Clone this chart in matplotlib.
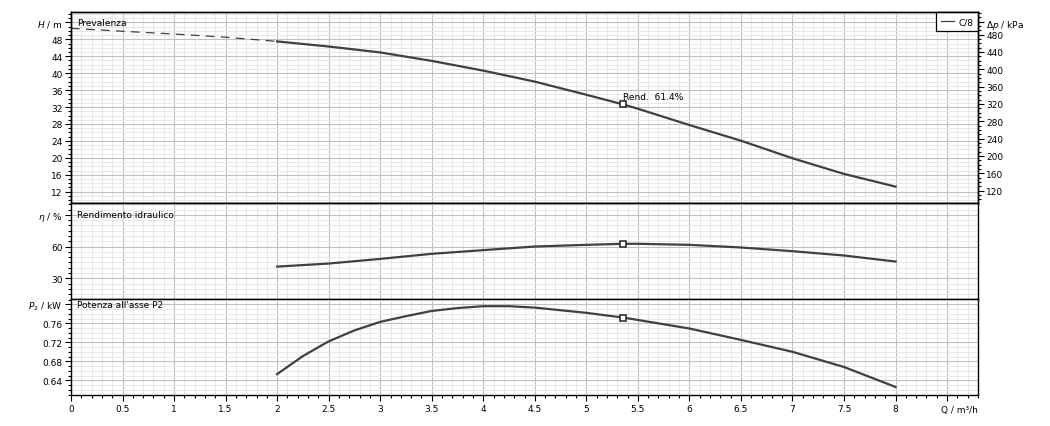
import matplotlib
matplotlib.use("Agg")
import matplotlib.pyplot as plt
from matplotlib.ticker import MultipleLocator, FixedLocator, FuncFormatter

# ---------------- data ----------------
q_dash = [0.0, 0.5, 1.0, 1.5, 2.0]
h_dash = [50.6, 49.9, 49.25, 48.5, 47.5]

q = [2.0, 2.5, 3.0, 3.5, 4.0, 4.5, 5.0, 5.36, 5.5, 6.0, 6.5, 7.0, 7.5, 8.0]
head = [47.5, 46.3, 44.9, 42.9, 40.6, 38.0, 34.9, 32.6, 31.6, 27.75, 24.05, 19.9, 16.2, 13.2]
eta = [41.0, 43.9, 48.3, 53.1, 56.6, 60.0, 61.6, 62.6, 62.6, 61.6, 59.1, 55.6, 51.5, 45.8]

q_p = [2.0, 2.25, 2.5, 2.75, 3.0, 3.25, 3.5, 3.75, 4.0, 4.25, 4.5, 5.0, 5.36, 5.5, 6.0, 6.5, 7.0, 7.5, 8.0]
power = [0.653, 0.691, 0.722, 0.745, 0.763, 0.775, 0.786, 0.792, 0.796, 0.796, 0.793, 0.782, 0.772,
         0.767, 0.749, 0.725, 0.700, 0.668, 0.626]

duty_q = 5.36
duty_h = 32.6
duty_eta = 62.6
duty_p = 0.772
duty_label = "Rend.  61.4%"
legend_label = "C/8"
kpa_per_m = 9.77

h_ticks = [12, 16, 20, 24, 28, 32, 36, 40, 44, 48, 52]
kpa_ticks = [120, 160, 200, 240, 280, 320, 360, 400, 440, 480]
eta_ticks = [30, 60, 90]
p_ticks = [0.64, 0.68, 0.72, 0.76, 0.80]

# ---------------- style ----------------
plt.rcParams['font.family'] = ['DejaVu Sans']
FS = 6.5
LC = '#404040'
MAJ = '#c0c0c0'
MIN = '#e8e8e8'

W_PX, H_PX = 1050, 427
fig = plt.figure(figsize=(W_PX / 100, H_PX / 100), dpi=100)
L = 71 / W_PX
R = 978 / W_PX


def rect(top_px, bot_px):
    return [L, 1 - bot_px / H_PX, R - L, (bot_px - top_px) / H_PX]


ax1 = fig.add_axes(rect(13.3, 204.0))
ax2 = fig.add_axes(rect(204.0, 300.3))
ax3 = fig.add_axes(rect(300.3, 395.7))

for ax in (ax1, ax2, ax3):
    ax.set_xlim(0, 8.8)
    ax.xaxis.set_major_locator(MultipleLocator(0.5))
    ax.xaxis.set_minor_locator(MultipleLocator(0.1))
    ax.grid(which='minor', color=MIN, lw=0.7)
    ax.grid(which='major', color=MAJ, lw=0.8)
    ax.set_axisbelow(True)
    for s in ax.spines.values():
        s.set_color('black')
        s.set_linewidth(1.0)
    ax.tick_params(which='major', direction='out', length=4, width=0.8,
                   labelsize=FS, pad=2, colors='black')
    ax.tick_params(which='minor', direction='out', length=2, width=0.8)

for ax in (ax1, ax2):
    ax.tick_params(axis='x', which='both', length=0, labelbottom=False)

# ---- head panel ----
ax1.plot(q_dash, h_dash, color=LC, lw=0.9, ls=(0, (7, 5)))
ax1.plot(q, head, color=LC, lw=1.6, label=legend_label)
ax1.plot([duty_q], [duty_h], marker='s', ms=5, mfc='white', mec='#202020', mew=1.1, ls='none')
ax1.text(duty_q, 34.6, duty_label, fontsize=FS, va='center', ha='left')
ax1.set_ylim(9.33, 54.38)
ax1.yaxis.set_major_locator(FixedLocator(h_ticks))
ax1.yaxis.set_minor_locator(MultipleLocator(1))
ax1.yaxis.set_major_formatter(FuncFormatter(
    lambda v, p: '$H$ / m' if v > 50 else '%g' % v))
ax1.text(0.0066, 52, 'Prevalenza', transform=ax1.get_yaxis_transform(),
         fontsize=FS, va='center', ha='left')
leg = ax1.legend(loc='upper right', fontsize=FS, handlelength=1.5,
                 borderaxespad=0, borderpad=0.55, fancybox=False,
                 framealpha=1, edgecolor='black', handletextpad=0.4)
leg.get_frame().set_linewidth(0.9)
for ln in leg.get_lines():
    ln.set_linewidth(0.9)

ax1r = ax1.twinx()
ax1r.set_ylim(9.33 * kpa_per_m, 54.38 * kpa_per_m)
ax1r.yaxis.set_major_locator(FixedLocator(kpa_ticks + [52 * kpa_per_m]))
ax1r.yaxis.set_minor_locator(MultipleLocator(10))
ax1r.yaxis.set_major_formatter(FuncFormatter(
    lambda v, p: r'$\Delta p$ / kPa' if v > 500 else '%g' % v))
ax1r.tick_params(which='major', direction='out', length=4, width=0.8,
                 labelsize=FS, pad=2)
ax1r.tick_params(which='minor', direction='out', length=2, width=0.8)
for s in ax1r.spines.values():
    s.set_color('black')
    s.set_linewidth(1.0)

# ---- efficiency panel ----
ax2.plot(q, eta, color=LC, lw=1.6)
ax2.plot([duty_q], [duty_eta], marker='s', ms=5, mfc='white', mec='#202020', mew=1.1, ls='none')
ax2.set_ylim(10.06, 101.2)
ax2.yaxis.set_major_locator(FixedLocator(eta_ticks))
ax2.yaxis.set_minor_locator(MultipleLocator(5))
ax2.yaxis.set_major_formatter(FuncFormatter(
    lambda v, p: r'$\eta$ / %' if v > 80 else '%g' % v))
ax2.text(0.0066, 90, 'Rendimento idraulico', transform=ax2.get_yaxis_transform(),
         fontsize=FS, va='center', ha='left')

# ---- power panel ----
ax3.plot(q_p, power, color=LC, lw=1.6)
ax3.plot([duty_q], [duty_p], marker='s', ms=5, mfc='white', mec='#202020', mew=1.1, ls='none')
ax3.set_ylim(0.6097, 0.8105)
ax3.yaxis.set_major_locator(FixedLocator(p_ticks))
ax3.yaxis.set_minor_locator(MultipleLocator(0.01))
ax3.yaxis.set_major_formatter(FuncFormatter(
    lambda v, p: '$P_2$ / kW' if v > 0.79 else '%.2f' % v))
ax3.xaxis.set_major_formatter(FuncFormatter(
    lambda v, p: '' if v > 8.01 else '%g' % v))
ax3.tick_params(axis='x', which='major', pad=3)
ax3.text(0.0066, 0.80, "Potenza all'asse P2", transform=ax3.get_yaxis_transform(),
         fontsize=FS, va='center', ha='left')

fig.text(R, 1 - 411 / H_PX, 'Q / m³/h', fontsize=FS, ha='right', va='center')

fig.savefig('out.png', dpi=100)
